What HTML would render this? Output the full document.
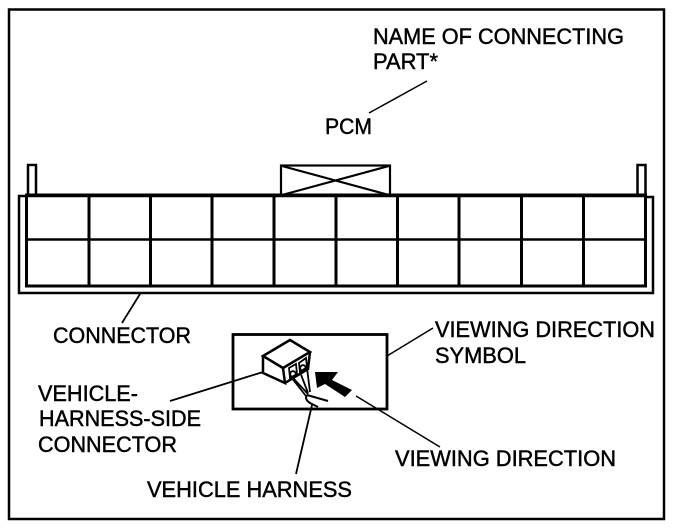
<!DOCTYPE html>
<html>
<head>
<meta charset="utf-8">
<style>
html,body{margin:0;padding:0;background:#fff;width:688px;height:532px;overflow:hidden}
svg{display:block}
text{font-family:"Liberation Sans",sans-serif;font-size:22px;fill:#000;stroke:#000;stroke-width:.45px}
</style>
</head>
<body>
<svg width="688" height="532" viewBox="0 0 688 532" xmlns="http://www.w3.org/2000/svg">
<rect width="688" height="532" fill="#fff"/>
<g fill="none" stroke="#000">
<!-- frame -->
<rect x="9" y="9.500" width="655" height="509.500" stroke-width="2.500"/>
<!-- pegs -->
<path d="M28 195V165H36V195" stroke-width="2.500"/>
<path d="M637.500 195V165H645.500V195" stroke-width="2.500"/>
<!-- PCM box -->
<rect x="281" y="165.500" width="109" height="29.500" stroke-width="2.200"/>
<path d="M282 166L389 195M282 195L389 166" stroke-width="2.200"/>
<!-- connector body -->
<path d="M645 196H19V293H653V197H645" stroke-width="2.500"/>
<rect x="26.500" y="195" width="619" height="91" stroke-width="3"/>
<path d="M27 239.500H645" stroke-width="2.500"/>
<path d="M89 195V286M150.500 195V286M212 195V286M274 195V286M336 195V286M397.500 195V286M459 195V286M521.500 195V286M583.500 195V286" stroke-width="3"/>
<!-- symbol box -->
<rect x="233" y="334.500" width="154" height="74.500" stroke-width="2.800"/>
<!-- leaders -->
<path d="M369 113L427 81" stroke-width="1.500"/>
<path d="M140 294L122 323" stroke-width="1.800"/>
<path d="M387 356L433 328" stroke-width="1.500"/>
<path d="M356 396L440 447" stroke-width="1.500"/>
<path d="M263 372L170 401" stroke-width="1.800"/>
<path d="M312 405L296 474" stroke-width="1.800"/>
<!-- small connector -->
<path d="M263 356L290 340L310 352L283 368Z" stroke-width="2.500"/>
<path d="M263 356V373L285 383L283 368M285 383L308 369L310 352" stroke-width="2.500"/>
<path d="M289 368L296 364L297 374L290 378ZM299 363L306 358L307 367L300 372Z" stroke-width="1.800"/>
<circle cx="293" cy="374" r="2.800" stroke-width="1.800"/>
<circle cx="303" cy="368" r="2.800" stroke-width="1.800"/>
<!-- wires -->
<path d="M291 377L306 396M293 378L308 394M300 372L308 393M307 368L310 392" stroke-width="1.800"/>
<path d="M307 395L328 401M307 395Q304 399 310 403L318 407" stroke-width="2"/>
</g>
<!-- arrow -->
<polygon points="315,372 338,372 332,380 352,390 345,397 325,384 317,388" fill="#000"/>
<!-- labels -->
<text x="373" y="44" textLength="251" lengthAdjust="spacingAndGlyphs">NAME OF CONNECTING</text>
<text x="373" y="69" textLength="65" lengthAdjust="spacingAndGlyphs">PART*</text>
<text x="325" y="134" textLength="47" lengthAdjust="spacingAndGlyphs">PCM</text>
<text x="53" y="343" textLength="138" lengthAdjust="spacingAndGlyphs">CONNECTOR</text>
<text x="38" y="401" textLength="100" lengthAdjust="spacingAndGlyphs">VEHICLE-</text>
<text x="39" y="426" textLength="162" lengthAdjust="spacingAndGlyphs">HARNESS-SIDE</text>
<text x="38" y="452" textLength="139" lengthAdjust="spacingAndGlyphs">CONNECTOR</text>
<text x="147" y="497" textLength="205" lengthAdjust="spacingAndGlyphs">VEHICLE HARNESS</text>
<text x="435" y="337" textLength="220" lengthAdjust="spacingAndGlyphs">VIEWING DIRECTION</text>
<text x="435" y="363" textLength="91" lengthAdjust="spacingAndGlyphs">SYMBOL</text>
<text x="395" y="466" textLength="221" lengthAdjust="spacingAndGlyphs">VIEWING DIRECTION</text>
</svg>
</body>
</html>
